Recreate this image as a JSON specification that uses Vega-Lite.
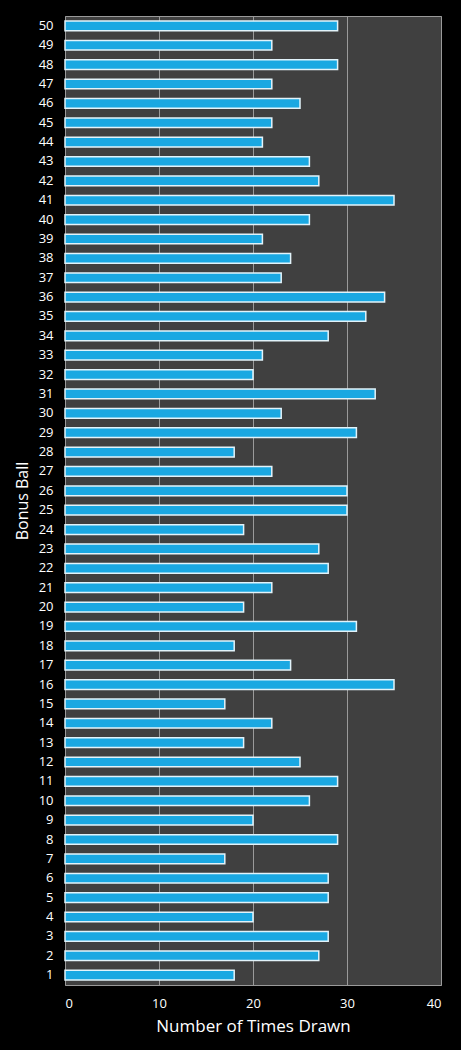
{
  "$schema": "https://vega.github.io/schema/vega-lite/v6.json",
  "width": 376,
  "height": 969,
  "autosize": {"type": "none"},
  "padding": {"left": 65, "top": 16, "right": 20, "bottom": 65},
  "background": "#000000",
  "config": {
    "view": {"fill": "#404040", "stroke": "#9a9a9a", "strokeWidth": 1},
    "font": "Open Sans"
  },
  "data": {
    "values": [
      {"ball": 1, "drawn": 18}, {"ball": 2, "drawn": 27}, {"ball": 3, "drawn": 28},
      {"ball": 4, "drawn": 20}, {"ball": 5, "drawn": 28}, {"ball": 6, "drawn": 28},
      {"ball": 7, "drawn": 17}, {"ball": 8, "drawn": 29}, {"ball": 9, "drawn": 20},
      {"ball": 10, "drawn": 26}, {"ball": 11, "drawn": 29}, {"ball": 12, "drawn": 25},
      {"ball": 13, "drawn": 19}, {"ball": 14, "drawn": 22}, {"ball": 15, "drawn": 17},
      {"ball": 16, "drawn": 35}, {"ball": 17, "drawn": 24}, {"ball": 18, "drawn": 18},
      {"ball": 19, "drawn": 31}, {"ball": 20, "drawn": 19}, {"ball": 21, "drawn": 22},
      {"ball": 22, "drawn": 28}, {"ball": 23, "drawn": 27}, {"ball": 24, "drawn": 19},
      {"ball": 25, "drawn": 30}, {"ball": 26, "drawn": 30}, {"ball": 27, "drawn": 22},
      {"ball": 28, "drawn": 18}, {"ball": 29, "drawn": 31}, {"ball": 30, "drawn": 23},
      {"ball": 31, "drawn": 33}, {"ball": 32, "drawn": 20}, {"ball": 33, "drawn": 21},
      {"ball": 34, "drawn": 28}, {"ball": 35, "drawn": 32}, {"ball": 36, "drawn": 34},
      {"ball": 37, "drawn": 23}, {"ball": 38, "drawn": 24}, {"ball": 39, "drawn": 21},
      {"ball": 40, "drawn": 26}, {"ball": 41, "drawn": 35}, {"ball": 42, "drawn": 27},
      {"ball": 43, "drawn": 26}, {"ball": 44, "drawn": 21}, {"ball": 45, "drawn": 22},
      {"ball": 46, "drawn": 25}, {"ball": 47, "drawn": 22}, {"ball": 48, "drawn": 29},
      {"ball": 49, "drawn": 22}, {"ball": 50, "drawn": 29}
    ]
  },
  "mark": {
    "type": "bar",
    "fill": "#1aa8e2",
    "stroke": "#e2f3fa",
    "strokeWidth": 1.5
  },
  "encoding": {
    "y": {
      "field": "ball",
      "type": "ordinal",
      "sort": "descending",
      "scale": {"paddingInner": 0.5, "paddingOuter": 0.26},
      "axis": {
        "title": "Bonus Ball",
        "titleColor": "#ffffff",
        "titleFontSize": 16,
        "titleFontWeight": "normal",
        "titlePadding": 8,
        "labelColor": "#ffffff",
        "labelFontSize": 13,
        "labelPadding": 12,
        "ticks": false,
        "domain": false
      }
    },
    "x": {
      "field": "drawn",
      "type": "quantitative",
      "scale": {"domain": [0, 40]},
      "axis": {
        "title": "Number of Times Drawn",
        "titleColor": "#ffffff",
        "titleFontSize": 17,
        "titleFontWeight": "normal",
        "titlePadding": 8,
        "labelColor": "#ffffff",
        "labelFontSize": 13,
        "labelPadding": 12,
        "values": [0, 10, 20, 30, 40],
        "grid": true,
        "gridColor": "#9a9a9a",
        "gridWidth": 1,
        "ticks": false,
        "domain": false
      }
    }
  }
}
